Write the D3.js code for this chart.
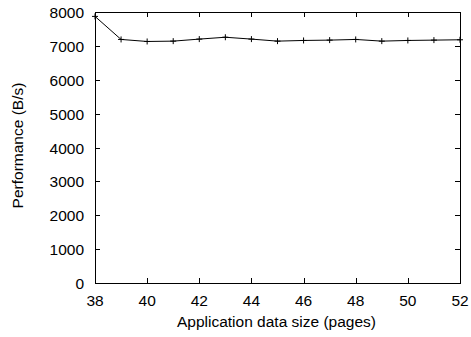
<!DOCTYPE html>
<html><head><meta charset="utf-8">
<script src="https://cdn.jsdelivr.net/npm/d3@7"></script>
<style>body{margin:0;background:#fff}svg{display:block}text{font-family:"Liberation Sans",Arial,sans-serif;font-size:15.5px;fill:#000}</style>
</head><body><svg id="c" width="471" height="337"></svg>
<script>
const sizes = [38,39,40,41,42,43,44,45,46,47,48,49,50,51,52];
const perf = [7870,7190,7130,7140,7200,7255,7200,7140,7160,7170,7190,7140,7160,7170,7180];
const xTicks = [38,40,42,44,46,48,50,52];
const yTicks = [0,1000,2000,3000,4000,5000,6000,7000,8000];
const xLabel = "Application data size (pages)";
const yLabel = "Performance (B/s)";

const svg = d3.select("#c");
const L=95, R=460, T=12, B=283;
const x = d3.scaleLinear().domain([38,52]).range([L,R]);
const y = d3.scaleLinear().domain([0,8000]).range([B,T]);
const tl = 5;
const g = svg.append("g").attr("stroke","#000").attr("stroke-width",1);
xTicks.forEach(v=>{
  const px = Math.round(x(v))+0.5;
  g.append("line").attr("x1",px).attr("x2",px).attr("y1",B).attr("y2",B-tl);
  g.append("line").attr("x1",px).attr("x2",px).attr("y1",T).attr("y2",T+tl);
});
yTicks.forEach(v=>{
  const py = Math.round(y(v))+0.5;
  g.append("line").attr("x1",L).attr("x2",L+tl).attr("y1",py).attr("y2",py);
  g.append("line").attr("x1",R).attr("x2",R-tl).attr("y1",py).attr("y2",py);
});
svg.append("rect").attr("x",L+0.5).attr("y",T+0.5).attr("width",R-L).attr("height",B-T)
  .attr("fill","none").attr("stroke","#000").attr("stroke-width",1);
xTicks.forEach(v=>svg.append("text").attr("x",x(v)).attr("y",B+23).attr("text-anchor","middle").text(v));
yTicks.forEach(v=>svg.append("text").attr("x",L-11).attr("y",y(v)+6).attr("text-anchor","end").text(v));
svg.append("text").attr("x",(L+R)/2-1).attr("y",327).attr("text-anchor","middle").text(xLabel);
svg.append("text").attr("transform",`translate(23,${(T+B)/2-2}) rotate(-90)`).attr("text-anchor","middle").text(yLabel);
const data = sizes.map((s,i)=>({s,v:perf[i]}));
svg.append("path").datum(data).attr("fill","none").attr("stroke","#000").attr("stroke-width",1)
  .attr("d",d3.line().x(d=>x(d.s)).y(d=>y(d.v)));
const m = svg.append("g").attr("stroke","#000").attr("stroke-width",1);
data.forEach(d=>{
  const px=x(d.s), py=y(d.v);
  m.append("line").attr("x1",px-3).attr("x2",px+3).attr("y1",py).attr("y2",py);
  m.append("line").attr("x1",px).attr("x2",px).attr("y1",py-3).attr("y2",py+3);
});
</script></body></html>
